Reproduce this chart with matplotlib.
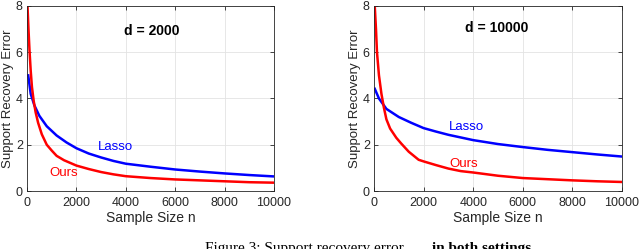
import matplotlib
matplotlib.use("Agg")
import matplotlib.pyplot as plt

plt.rcParams["font.family"] = ["Liberation Sans", "DejaVu Sans"]

# d = 2000 panel
n_lasso_2k = [50, 150, 300, 500, 800, 1200, 1600, 2000, 2500, 3000, 3500, 4000,
              5000, 6000, 7000, 8000, 9000, 10000]
err_lasso_2k = [5.0, 4.2, 3.7, 3.25, 2.8, 2.4, 2.1, 1.85, 1.62, 1.45, 1.3, 1.18,
                1.05, 0.93, 0.84, 0.76, 0.69, 0.63]
n_ours_2k = [20, 60, 100, 150, 200, 270, 350, 450, 600, 800, 1000, 1200, 1500,
             2000, 2500, 3000, 3500, 4000, 5000, 6000, 7000, 8000, 9000, 10000]
err_ours_2k = [8.0, 7.0, 6.1, 5.2, 4.5, 3.9, 3.4, 2.95, 2.45, 2.0, 1.75, 1.52, 1.33,
               1.1, 0.95, 0.82, 0.72, 0.64, 0.56, 0.5, 0.46, 0.42, 0.38, 0.36]

# d = 10000 panel
n_lasso_10k = [30, 200, 500, 1000, 1500, 2000, 2500, 3000, 4000, 5000, 6000,
               7000, 8000, 9000, 10000]
err_lasso_10k = [4.42, 4.0, 3.55, 3.2, 2.95, 2.72, 2.57, 2.43, 2.2, 2.03, 1.9,
                 1.78, 1.68, 1.58, 1.49]
n_ours_10k = [30, 80, 120, 200, 300, 400, 500, 650, 900, 1100, 1400, 1800, 2000,
              2500, 3000, 3500, 4000, 5000, 6000, 7000, 8000, 9000, 10000]
err_ours_10k = [8.0, 7.0, 6.0, 5.0, 4.2, 3.6, 3.1, 2.7, 2.3, 2.05, 1.7, 1.35, 1.28,
                1.12, 0.97, 0.86, 0.8, 0.66, 0.56, 0.51, 0.46, 0.42, 0.39]

x_ticks = [0, 2000, 4000, 6000, 8000, 10000]
y_ticks = [0, 2, 4, 6, 8]

panels = [
    dict(rect=[27 / 640, 58 / 249, 247 / 640, 185 / 249], title="d = 2000",
         title_xy=(5050, 6.93),
         lasso=(n_lasso_2k, err_lasso_2k), ours=(n_ours_2k, err_ours_2k),
         lasso_xy=(3570, 1.92), ours_xy=(1480, 0.76)),
    dict(rect=[374 / 640, 58 / 249, 248 / 640, 185 / 249], title="d = 10000",
         title_xy=(4946, 7.03),
         lasso=(n_lasso_10k, err_lasso_10k), ours=(n_ours_10k, err_ours_10k),
         lasso_xy=(3733, 2.75), ours_xy=(3625, 1.15)),
]

fig = plt.figure(figsize=(6.4, 2.49), dpi=100)
dark = "#262626"

for p in panels:
    ax = fig.add_axes(p["rect"])
    ax.plot(*p["lasso"], color="#0000ff", lw=1.8)
    ax.plot(*p["ours"], color="#ff0000", lw=1.8)
    ax.set_xlim(0, 10000)
    ax.set_ylim(0, 8)
    ax.set_xticks(x_ticks)
    ax.set_yticks(y_ticks)
    ax.grid(True, color="#e3e3e3", lw=0.6)
    ax.set_axisbelow(True)
    ax.tick_params(direction="in", length=3, width=0.6, colors=dark,
                   labelsize=9, top=True, right=True, pad=3)
    ax.tick_params(axis="x", pad=4)
    for s in ax.spines.values():
        s.set_color(dark)
        s.set_linewidth(0.6)
    ax.set_xlabel("Sample Size n", fontsize=10, color=dark, labelpad=2)
    ax.set_ylabel("Support Recovery Error", fontsize=9.5, color=dark, labelpad=1)
    ax.text(*p["title_xy"], p["title"], fontsize=10, fontweight="bold",
            ha="center", va="center")
    ax.text(*p["lasso_xy"], "Lasso", fontsize=9.5, color="#0000ff",
            ha="center", va="center")
    ax.text(*p["ours_xy"], "Ours", fontsize=9.5, color="#ff0000",
            ha="center", va="center")

# caption, cut off at the bottom edge as in the source page
serif = ["Liberation Serif", "DejaVu Serif"]
fig.text(205 / 640, 1 - 252 / 249, "Figure 3: Support recovery error",
         fontsize=11, family=serif, va="baseline", ha="left")
fig.text(432 / 640, 1 - 252 / 249, "in both settings",
         fontsize=11, family=serif, fontweight="bold", va="baseline", ha="left")

fig.savefig("out.png", dpi=100)
